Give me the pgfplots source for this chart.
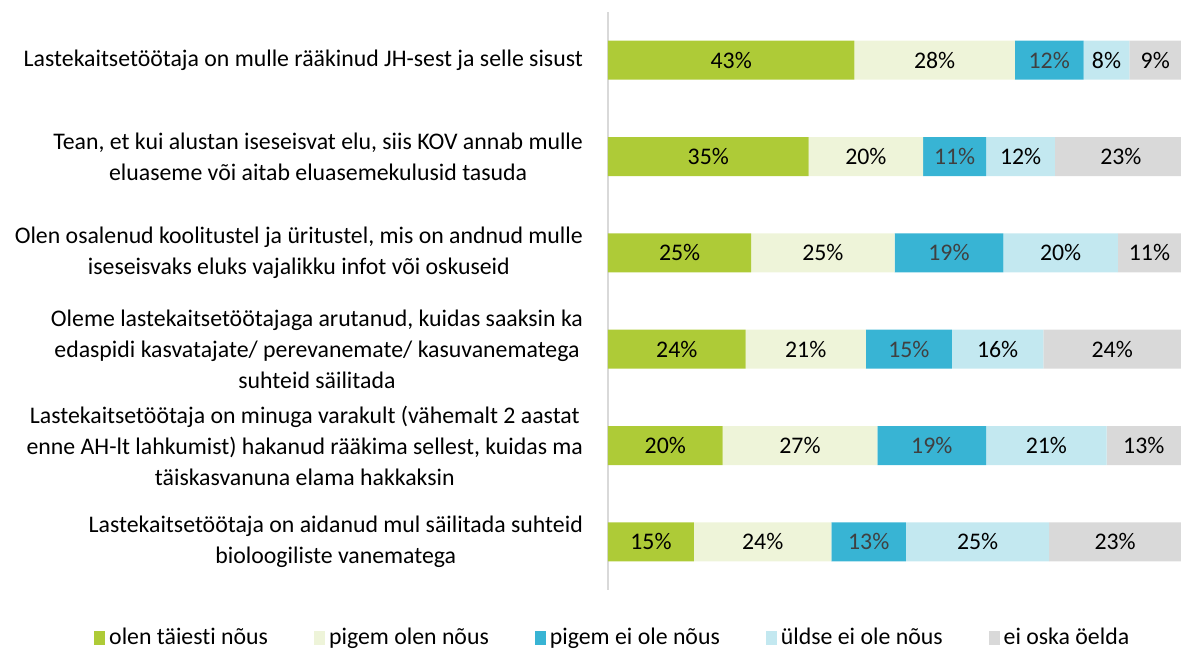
\documentclass[border=0pt]{standalone}
\usepackage{fontspec}
\setmainfont{Carlito}[Ligatures=NoCommon]
\usepackage{pgfplots}
\usepackage{pgfplotstable}
\pgfplotsset{compat=1.18}

\definecolor{c1}{HTML}{AECB37}
\definecolor{c2}{HTML}{EEF4D9}
\definecolor{c3}{HTML}{38B4D4}
\definecolor{c4}{HTML}{C3E8F0}
\definecolor{c5}{HTML}{D9D9D9}
\definecolor{darklab}{HTML}{404040}

% one row per statement, top to bottom
\pgfplotstableread{
row a b c d e
0 43 28 12 8 9
1 35 20 11 12 23
2 25 25 19 20 11
3 24 21 15 16 24
4 20 27 19 21 13
5 15 24 13 25 23
}\data

\begin{document}
\begin{tikzpicture}[font=\fontsize{11.9}{15.5}\selectfont]
\useasboundingbox (-304pt,-31pt) rectangle (286.5pt,295pt);
\pgfplotsset{common/.style={
    scale only axis, width=286.5pt, height=289pt,
    xmin=0, xmax=100, ymin=-0.5, ymax=5.5, y dir=reverse}}
\begin{axis}[
    common,
    xbar stacked,
    bar width=19.5pt,
    axis x line=none,
    axis y line*=left,
    y axis line style={color=c5, line width=1pt},
    xtick=\empty,
    ytick={0,...,5},
    major tick length=0pt,
    yticklabels={
        {Lastekaitsetöötaja on mulle rääkinud JH-sest ja selle sisust},
        {Tean, et kui alustan iseseisvat elu, siis KOV annab mulle\\eluaseme või aitab eluasemekulusid tasuda},
        {Olen osalenud koolitustel ja üritustel, mis on andnud mulle\\iseseisvaks eluks vajalikku infot või oskuseid},
        {Oleme lastekaitsetöötajaga arutanud, kuidas saaksin ka\\edaspidi kasvatajate/ perevanemate/ kasuvanematega\\suhteid säilitada},
        {Lastekaitsetöötaja on minuga varakult (vähemalt 2 aastat\\enne AH-lt lahkumist) hakanud rääkima sellest, kuidas ma\\täiskasvanuna elama hakkaksin},
        {Lastekaitsetöötaja on aidanud mul säilitada suhteid\\bioloogiliste vanematega}},
    yticklabel style={align=center, xshift=-9pt, font=\fontsize{11.9}{15.5}\selectfont},
    legend style={at={(0.01,-0.083)}, anchor=center, draw=none,
        font=\fontsize{11.9}{13}\selectfont,
        /tikz/every even column/.append style={column sep=21pt}},
    legend columns=5,
    legend cell align=left,
    legend image code/.code={\fill[#1] (0pt,-3.5pt) rectangle (5.5pt,3.5pt);},
]
\addplot[fill=c1, draw=none] table[x=a, y=row] {\data};
\addplot[fill=c2, draw=none] table[x=b, y=row] {\data};
\addplot[fill=c3, draw=none] table[x=c, y=row] {\data};
\addplot[fill=c4, draw=none] table[x=d, y=row] {\data};
\addplot[fill=c5, draw=none] table[x=e, y=row] {\data};
\legend{olen täiesti nõus, pigem olen nõus, pigem ei ole nõus, üldse ei ole nõus, ei oska öelda}
\end{axis}

% value labels in the middle of each segment
\begin{axis}[
    common, hide axis,
    point meta=explicit,
    /pgf/number format/assume math mode=true,
    nodes near coords={\pgfmathprintnumber{\pgfplotspointmeta}\%},
    every node near coord/.append style={anchor=center, text=black,
        font=\fontsize{11.9}{13}\selectfont},
]
\addplot[draw=none, mark=none] table[x expr=\thisrow{a}/2, y=row, meta=a] {\data};
\addplot[draw=none, mark=none] table[x expr=\thisrow{a}+\thisrow{b}/2, y=row, meta=b] {\data};
\addplot[draw=none, mark=none, every node near coord/.append style={text=darklab}]
    table[x expr=\thisrow{a}+\thisrow{b}+\thisrow{c}/2, y=row, meta=c] {\data};
\addplot[draw=none, mark=none] table[x expr=\thisrow{a}+\thisrow{b}+\thisrow{c}+\thisrow{d}/2, y=row, meta=d] {\data};
\addplot[draw=none, mark=none] table[x expr=\thisrow{a}+\thisrow{b}+\thisrow{c}+\thisrow{d}+\thisrow{e}/2, y=row, meta=e] {\data};
\end{axis}
\end{tikzpicture}
\end{document}
